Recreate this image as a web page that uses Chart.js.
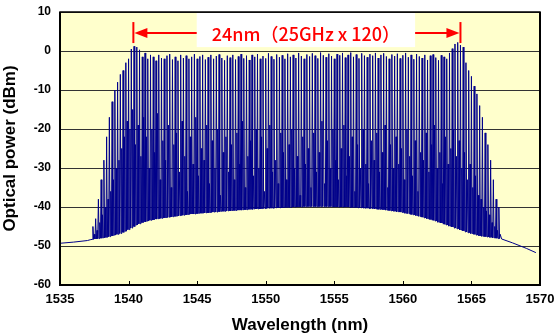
<!DOCTYPE html>
<html>
<head>
<meta charset="utf-8">
<script src="https://cdn.jsdelivr.net/npm/chart.js@4.4.1/dist/chart.umd.min.js"></script>
<style>
  html, body { margin: 0; padding: 0; background: #fff; }
</style>
</head>
<body>
<canvas id="spectrum" width="554" height="336"></canvas>
<script>
// axis ticks
const xTickValues = [1535, 1540, 1545, 1550, 1555, 1560, 1565, 1570];
const yTickValues = [-60, -50, -40, -30, -20, -10, 0, 10];

// ASE tails outside the comb
const tailLeftNm = [1535, 1536, 1537, 1537.2];
const tailLeftDbm = [-49.3, -49.0, -48.6, -48.4];
const tailRightNm = [1567.2, 1568, 1569, 1569.7];
const tailRightDbm = [-48.2, -49.2, -50.6, -51.7];

// channel grid (25 GHz ~ 0.2 nm), first channel at 1537.4 nm
const chStartNm = 1537.4;
const chSpacingNm = 0.2;

// peak level of each channel (dBm)
const peakDbm = [
  -45, -43, -38, -33, -28, -22, -17, -13, -10, -8,
  -6, -5, -3, -2, 0.5, 1.2, 1.0, 0.3, -1.5, -0.5,
  -2, -1, -1.5, -2.5, -1, -1.8, -2, -1.2, -0.8, -2.2,
  -1.5, -2.5, -1, -1.8, -1.2, -2, -1.5, -0.8, -2, -1.4,
  -1, -2.2, -1.6, -1, -2, -1.3, -0.9, -1.8, -2.4, -1.2,
  -1.7, -1, -2.2, -1.4, -0.8, -1.9, -1.2, -2.3, -1, -1.5,
  -0.8, -2, -1.3, -1.9, -0.6, -1.4, -2.1, -0.9, -1.6, -1.1,
  -2, -0.7, -1.5, -1, -1.8, -0.5, -1.3, -2, -0.9, -1.4,
  -0.6, -1.2, -1.9, -0.4, -1.1, -1.6, -0.7, -1.3, -2, -0.8,
  -1.1, -0.5, -1.7, -1, -0.4, -1.5, -0.9, -1.9, -0.6, -1.2,
  -1.6, -0.8, -1.2, -0.5, -1.8, -1, -0.6, -1.4, -2, -0.9,
  -1.3, -0.7, -1.9, -1.1, -0.5, -1.6, -1, -2.1, -0.8, -1.4,
  -1.8, -1, -2.3, -1.2, -0.9, -1.7, -2.4, -1.1, -1.5, -2,
  -0.5, 0.6, 1.8, 2.2, 1.5, 1.0, -3, -5, -6.5, -9,
  -11, -14, -17, -21, -24, -28, -33, -38, -40
];

// inter-channel spikes (dBm)
const midDbm = [
  -47, -46, -44, -42, -40, -38, -36, -33, -30, -28,
  -25, -22, -18, -20, -15, -24, -19, -27, -17, -22,
  -30, -20, -26, -16, -33, -23, -28, -19, -35, -24,
  -21, -31, -18, -27, -36, -22, -29, -17, -32, -25,
  -28, -19, -34, -23, -30, -20, -37, -26, -22, -31,
  -24, -33, -21, -29, -18, -35, -27, -23, -32, -20,
  -30, -22, -36, -25, -19, -31, -28, -34, -21, -26,
  -33, -24, -20, -30, -27, -37, -22, -29, -25, -35,
  -21, -31, -26, -18, -34, -23, -30, -20, -28, -33,
  -25, -19, -32, -27, -22, -36, -24, -30, -20, -29,
  -34, -23, -28, -21, -31, -26, -19, -35, -24, -30,
  -22, -29, -25, -33, -20, -27, -32, -23, -36, -26,
  -28, -21, -31, -24, -19, -30, -26, -34, -22, -29,
  -25, -20, -27, -23, -30, -26, -33, -29, -35, -32,
  -37, -38, -40, -41, -42, -44, -45, -46, -47
];

// noise floor between channels (dBm)
const floorDbm = [
  -48.3, -48.2, -48.1, -48, -47.9, -47.8, -47.6, -47.4, -47.2, -47,
  -46.8, -46.5, -46.2, -45.8, -45.4, -45, -44.6, -44.3, -44, -43.8,
  -43.6, -43.4, -43.3, -43.1, -43, -42.9, -42.8, -42.7, -42.6, -42.5,
  -42.4, -42.3, -42.2, -42.1, -42, -41.9, -41.8, -41.8, -41.7, -41.6,
  -41.6, -41.5, -41.5, -41.4, -41.3, -41.3, -41.2, -41.1, -41.1, -41,
  -41, -40.9, -40.9, -40.8, -40.8, -40.7, -40.7, -40.6, -40.6, -40.5,
  -40.5, -40.5, -40.4, -40.4, -40.3, -40.3, -40.3, -40.2, -40.2, -40.2,
  -40.1, -40.1, -40.1, -40, -40, -40, -40, -39.9, -39.9, -39.9,
  -39.9, -39.9, -39.9, -39.9, -39.9, -39.9, -39.9, -39.9, -40, -40,
  -40, -40, -40, -40, -40.1, -40.1, -40.1, -40.2, -40.2, -40.3,
  -40.3, -40.4, -40.4, -40.5, -40.6, -40.6, -40.7, -40.8, -40.9, -41,
  -41.1, -41.2, -41.3, -41.4, -41.6, -41.7, -41.9, -42, -42.2, -42.4,
  -42.6, -42.8, -43, -43.2, -43.4, -43.6, -43.9, -44.1, -44.4, -44.6,
  -44.9, -45.1, -45.4, -45.6, -45.9, -46.1, -46.4, -46.6, -46.8, -47,
  -47.2, -47.4, -47.5, -47.6, -47.7, -47.8, -47.9, -48, -48.1
];

// annotation
const spanLabel = "24nm（25GHz x 120）";
const spanFromNm = 1540.35;
const spanToNm = 1564.2;
const spanLevelDbm = 4.6;

// build the trace
const trace = [];
tailLeftNm.forEach((x, i) => trace.push({ x: x, y: tailLeftDbm[i] }));
peakDbm.forEach((p, i) => {
  const c = chStartNm + i * chSpacingNm;
  trace.push({ x: c - 0.05, y: floorDbm[i] });
  trace.push({ x: c, y: p });
  trace.push({ x: c + 0.05, y: floorDbm[i] });
  trace.push({ x: c + 0.1, y: midDbm[i] });
});
tailRightNm.forEach((x, i) => trace.push({ x: x, y: tailRightDbm[i] }));

const plotBg = {
  id: "plotBg",
  beforeDraw(chart) {
    const a = chart.chartArea, ctx = chart.ctx;
    ctx.save();
    ctx.fillStyle = "#ffffcc";
    ctx.fillRect(a.left, a.top, a.right - a.left, a.bottom - a.top);
    ctx.restore();
  }
};

const frame = {
  id: "frame",
  afterDraw(chart) {
    const a = chart.chartArea, ctx = chart.ctx;
    const xs = chart.scales.x;
    ctx.save();
    ctx.strokeStyle = "#000";
    ctx.lineWidth = 1.5;
    ctx.strokeRect(a.left, a.top, a.right - a.left, a.bottom - a.top);
    ctx.lineWidth = 2;
    ctx.beginPath();
    ctx.moveTo(a.left, a.top);
    ctx.lineTo(a.left, a.bottom);
    ctx.lineTo(a.right, a.bottom);
    ctx.lineTo(a.right, a.top);
    ctx.stroke();
    // small inward ticks on the x axis
    ctx.lineWidth = 1;
    xTickValues.forEach(v => {
      const px = Math.round(xs.getPixelForValue(v)) + 0.5;
      ctx.beginPath();
      ctx.moveTo(px, a.bottom);
      ctx.lineTo(px, a.bottom - 4);
      ctx.stroke();
    });
    ctx.restore();
  }
};

const spanArrow = {
  id: "spanArrow",
  afterDatasetsDraw(chart) {
    const ctx = chart.ctx, xs = chart.scales.x, ys = chart.scales.y;
    const a = chart.chartArea;
    const x1 = xs.getPixelForValue(spanFromNm);
    const x2 = xs.getPixelForValue(spanToNm);
    const y = ys.getPixelForValue(spanLevelDbm);
    ctx.save();
    ctx.strokeStyle = "#ff0000";
    ctx.fillStyle = "#ff0000";
    ctx.lineWidth = 2;
    // end bars
    [x1, x2].forEach(x => {
      ctx.beginPath();
      ctx.moveTo(x, y - 11);
      ctx.lineTo(x, y + 10);
      ctx.stroke();
    });
    // shaft
    ctx.beginPath();
    ctx.moveTo(x1 + 10, y);
    ctx.lineTo(x2 - 10, y);
    ctx.stroke();
    // heads
    ctx.beginPath();
    ctx.moveTo(x1 + 1, y);
    ctx.lineTo(x1 + 14, y - 5);
    ctx.lineTo(x1 + 14, y + 5);
    ctx.closePath();
    ctx.fill();
    ctx.beginPath();
    ctx.moveTo(x2 - 1, y);
    ctx.lineTo(x2 - 14, y - 5);
    ctx.lineTo(x2 - 14, y + 5);
    ctx.closePath();
    ctx.fill();
    // label box
    ctx.font = "500 18px 'Noto Sans CJK JP'";
    const w = ctx.measureText(spanLabel).width;
    const cx = (x1 + x2) / 2 + 9;
    const boxBottom = ys.getPixelForValue(1);
    ctx.fillStyle = "#ffffff";
    ctx.fillRect(cx - w / 2 - 15, a.top + 1, w + 30, boxBottom - a.top - 1);
    ctx.fillStyle = "#ff0000";
    ctx.textAlign = "center";
    ctx.textBaseline = "middle";
    ctx.fillText(spanLabel, cx, y + 1);
    ctx.restore();
  }
};

new Chart(document.getElementById("spectrum"), {
  type: "line",
  data: {
    datasets: [{
      data: trace,
      borderColor: "#00008b",
      borderWidth: 1,
      pointRadius: 0,
      tension: 0,
      fill: false
    }]
  },
  options: {
    responsive: false,
    animation: false,
    parsing: false,
    layout: { padding: { top: 12, right: 14, left: 0, bottom: 0 } },
    plugins: {
      legend: { display: false },
      tooltip: { enabled: false }
    },
    scales: {
      x: {
        type: "linear",
        min: 1535,
        max: 1570,
        afterBuildTicks(s) { s.ticks = xTickValues.map(v => ({ value: v })); },
        afterFit(s) { s.height = 51; s.paddingLeft = 0; s.paddingRight = 0; },
        grid: { display: false, drawTicks: false },
        border: { display: false },
        ticks: {
          color: "#000",
          padding: 7,
          font: { family: "Liberation Sans", size: 13, weight: "bold" },
          maxRotation: 0,
          callback: v => String(v)
        },
        title: {
          display: true,
          text: "Wavelength (nm)",
          color: "#000",
          padding: { top: 1, bottom: 0 },
          font: { family: "Liberation Sans", size: 17, weight: "bold" }
        }
      },
      y: {
        min: -60,
        max: 10,
        afterBuildTicks(s) { s.ticks = yTickValues.map(v => ({ value: v })); },
        afterFit(s) { s.width = 60; s.paddingTop = 0; s.paddingBottom = 0; },
        grid: { color: "#333333", lineWidth: 1, drawTicks: false },
        border: { display: false },
        ticks: {
          color: "#000",
          padding: 9,
          font: { family: "Liberation Sans", size: 12, weight: "bold" }
        },
        title: {
          display: true,
          text: "Optical power (dBm)",
          color: "#000",
          padding: { top: 0, bottom: 3 },
          font: { family: "Liberation Sans", size: 17, weight: "bold" }
        }
      }
    }
  },
  plugins: [plotBg, spanArrow, frame]
});
</script>
</body>
</html>
